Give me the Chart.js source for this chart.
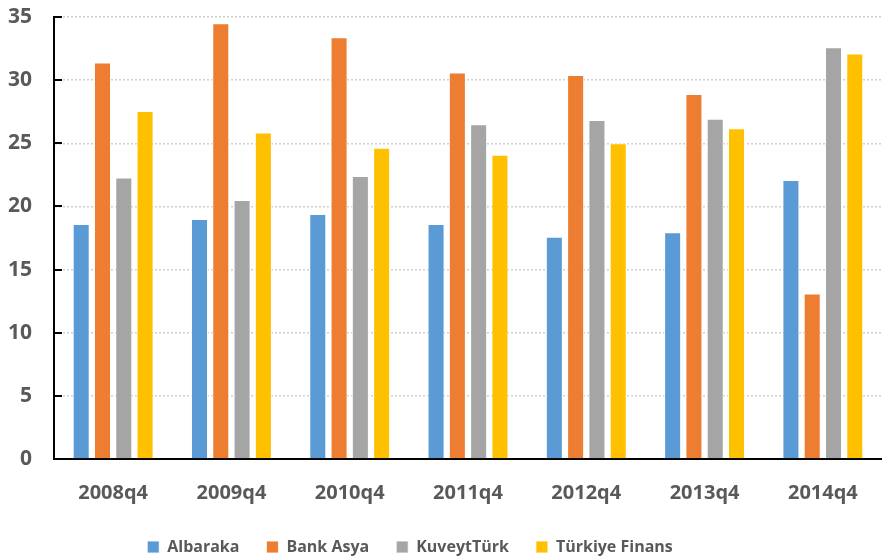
<!DOCTYPE html>
<html>
<head>
<meta charset="utf-8">
<script src="https://cdn.jsdelivr.net/npm/chart.js@4/dist/chart.umd.min.js"></script>
<style>
html,body{margin:0;padding:0;background:#fff;}
#wrap{width:882px;height:558px;}
</style>
</head>
<body>
<div id="wrap"><canvas id="c" width="882" height="558"></canvas></div>
<script>
const categories = ["2008q4","2009q4","2010q4","2011q4","2012q4","2013q4","2014q4"];
const albaraka   = [18.6, 19.0, 19.4, 18.6, 17.6, 17.95, 22.1];
const bankAsya   = [31.4, 34.5, 33.4, 30.6, 30.4, 28.9, 13.1];
const kuveytTurk = [22.3, 20.5, 22.4, 26.5, 26.85, 26.95, 32.6];
const turkiyeFinans = [27.55, 25.85, 24.65, 24.1, 25.0, 26.2, 32.1];
const seriesNames = ["Albaraka","Bank Asya","KuveytTürk","Türkiye Finans"];
const colors = ["#5B9BD5","#ED7D31","#A5A5A5","#FFC000"];
const yTicks = [0,5,10,15,20,25,30,35];

const FONT = "'Open Sans', 'Liberation Sans', sans-serif";
const LEGEND_H = 46, LEGEND_DX = -31;
const tweaks = {
  id:'tweaks',
  beforeLayout(chart){
    const lg = chart.legend;
    if (lg && !lg._patched){
      const orig = lg.fit;
      lg.fit = function(){ orig.call(this); this.height = LEGEND_H; };
      lg._patched = true;
    }
  },
  afterLayout(chart){
    const lg = chart.legend;
    if (lg){ lg.left += LEGEND_DX; lg.right += LEGEND_DX; }
  },
  afterDraw(chart){
    const y = chart.scales.y, ctx = chart.ctx;
    ctx.save();
    ctx.strokeStyle = '#000'; ctx.lineWidth = 2;
    yTicks.forEach(v=>{
      const py = Math.round(y.getPixelForValue(v));
      ctx.beginPath(); ctx.moveTo(chart.chartArea.left, py); ctx.lineTo(chart.chartArea.left+8, py); ctx.stroke();
    });
    ctx.restore();
  }
};
const data = [albaraka, bankAsya, kuveytTurk, turkiyeFinans];
new Chart(document.getElementById('c'), {
  type:'bar',
  data:{
    labels: categories,
    datasets: seriesNames.map((n,i)=>({
      label:n, data:data[i], backgroundColor:colors[i],
      borderColor:'rgba(255,255,255,0.8)', borderWidth:1,
      categoryPercentage:0.72, barPercentage:0.8
    }))
  },
  options:{
    responsive:false, animation:false,
    layout:{padding:{top:17,right:0,left:0,bottom:0}},
    plugins:{
      tooltip:{enabled:false},
      legend:{
        position:'bottom',
        labels:{boxWidth:12, boxHeight:12, padding:27, color:'#595959',
          font:{family:FONT, size:16, weight:'bold'}}
      }
    },
    scales:{
      x:{
        afterFit(s){ s.height = 53; },
        grid:{display:false, drawTicks:false},
        border:{color:'#000', width:2},
        ticks:{color:'#595959', padding:22, font:{family:FONT, size:20, weight:'bold'}}
      },
      y:{
        min:0, max:35,
        afterFit(s){ s.width = 54; s.paddingTop = 0; s.paddingBottom = 0; },
        grid:{color:'#D0D0D0', lineWidth:1.5, drawTicks:false},
        border:{color:'#000', width:2, dash:[2,2]},
        ticks:{stepSize:5, color:'#595959', padding:22, font:{family:FONT, size:21, weight:'bold'}}
      }
    }
  },
  plugins:[tweaks]
});
</script>
</body>
</html>
